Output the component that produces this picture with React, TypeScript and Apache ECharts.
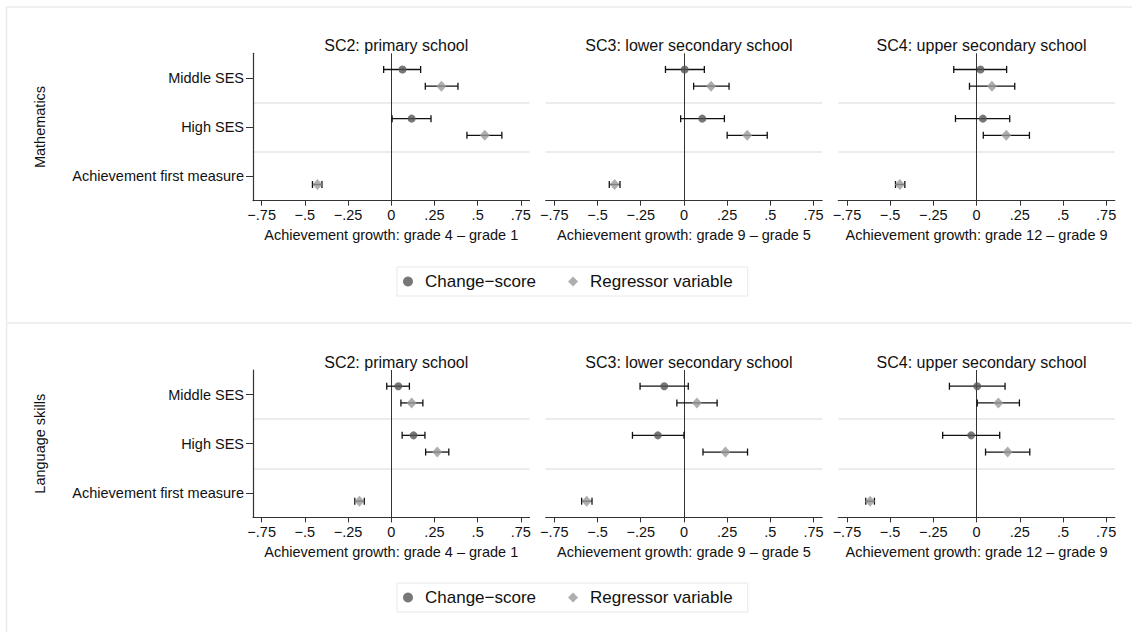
import React, { useEffect, useRef } from "react";
import * as echarts from "echarts";

// Row labels (top to bottom) and panel headings
const categories = ["Middle SES", "High SES", "Achievement first measure"];
const stages = ["SC2: primary school", "SC3: lower secondary school", "SC4: upper secondary school"];
const growthTitles = [
  "Achievement growth: grade 4 – grade 1",
  "Achievement growth: grade 9 – grade 5",
  "Achievement growth: grade 12 – grade 9",
];
const domains = ["Mathematics", "Language skills"];
const xTicks = [-0.75, -0.5, -0.25, 0, 0.25, 0.5, 0.75];

// Estimates as [coefficient, lower CI, upper CI]; change-score rows: Middle SES, High SES
const mathChangeSC2 = [[0.065, -0.044, 0.17], [0.118, 0.005, 0.23]];
const mathChangeSC3 = [[0.004, -0.107, 0.118], [0.106, -0.019, 0.234]];
const mathChangeSC4 = [[0.023, -0.132, 0.174], [0.037, -0.122, 0.192]];
// Regressor-variable rows: Middle SES, High SES, Achievement first measure
const mathRegSC2 = [[0.29, 0.197, 0.386], [0.541, 0.438, 0.64], [-0.427, -0.456, -0.401]];
const mathRegSC3 = [[0.157, 0.056, 0.261], [0.366, 0.25, 0.482], [-0.401, -0.432, -0.37]];
const mathRegSC4 = [[0.089, -0.041, 0.221], [0.172, 0.039, 0.306], [-0.444, -0.469, -0.415]];

const langChangeSC2 = [[0.041, -0.026, 0.105], [0.129, 0.063, 0.195]];
const langChangeSC3 = [[-0.114, -0.254, 0.025], [-0.151, -0.298, 0.0]];
const langChangeSC4 = [[0.004, -0.157, 0.165], [-0.031, -0.196, 0.134]];
const langRegSC2 = [[0.118, 0.056, 0.183], [0.266, 0.199, 0.333], [-0.184, -0.211, -0.156]];
const langRegSC3 = [[0.075, -0.041, 0.192], [0.24, 0.11, 0.368], [-0.563, -0.592, -0.532]];
const langRegSC4 = [[0.126, 0.004, 0.248], [0.18, 0.052, 0.308], [-0.616, -0.641, -0.591]];

const CHANGE = "Change\u2212score";
const REGRESSOR = "Regressor variable";

const panels = [
  { change: mathChangeSC2, reg: mathRegSC2 },
  { change: mathChangeSC3, reg: mathRegSC3 },
  { change: mathChangeSC4, reg: mathRegSC4 },
  { change: langChangeSC2, reg: langRegSC2 },
  { change: langChangeSC3, reg: langRegSC3 },
  { change: langChangeSC4, reg: langRegSC4 },
];

const FONT = "'Liberation Sans', Arial, Helvetica, sans-serif";
const TEXT = "#111";
const AXIS = "#333";
const GRID_LEFTS = [253, 545.7, 838.3];
const GRID_W = 276.5;
const HALF_TOPS = [53.3, 370];
const GRID_H = 147.4;
const OFFSET = 0.17; // vertical shift of the two estimates inside a row

const tickLabel = (v: number) => {
  if (Math.abs(v) < 1e-9) return "0";
  const s = Math.abs(v).toString().replace(/^0/, "");
  return (v < 0 ? "\u2212" : "") + s;
};

const errorBar = (params: any, api: any) => {
  const y = api.value(2);
  const p1 = api.coord([api.value(0), y]);
  const p2 = api.coord([api.value(1), y]);
  const h = 3.5;
  const style = { stroke: "#111", lineWidth: 1.3 };
  return {
    type: "group",
    children: [
      { type: "line", shape: { x1: p1[0], y1: p1[1], x2: p2[0], y2: p2[1] }, style },
      { type: "line", shape: { x1: p1[0], y1: p1[1] - h, x2: p1[0], y2: p1[1] + h }, style },
      { type: "line", shape: { x1: p2[0], y1: p2[1] - h, x2: p2[0], y2: p2[1] + h }, style },
    ],
  };
};

function buildOption() {
  const grid: any[] = [];
  const xAxis: any[] = [];
  const yAxis: any[] = [];
  const title: any[] = [];
  const series: any[] = [];

  panels.forEach((p, g) => {
    const col = g % 3;
    const half = Math.floor(g / 3);
    const left = GRID_LEFTS[col];
    const top = HALF_TOPS[half];
    grid.push({ left, top, width: GRID_W, height: GRID_H, containLabel: false });

    title.push({
      text: stages[col],
      left: left + GRID_W / 2,
      top: top - 21,
      textAlign: "center",
      textStyle: { fontSize: 16, fontWeight: "normal", color: TEXT, fontFamily: FONT },
    });

    xAxis.push({
      type: "value",
      gridIndex: g,
      position: "bottom",
      min: -0.8,
      max: 0.8,
      axisLine: { show: true, onZero: false, lineStyle: { color: AXIS, width: 1.2 } },
      axisTick: { show: true, customValues: xTicks, length: 5, lineStyle: { color: AXIS, width: 1 } },
      axisLabel: {
        customValues: xTicks,
        formatter: tickLabel,
        fontSize: 14.5,
        color: TEXT,
        margin: 7,
        fontFamily: FONT,
      },
      splitLine: { show: false },
      name: growthTitles[col],
      nameLocation: "middle",
      nameGap: 27,
      nameTextStyle: { fontSize: 14.5, color: TEXT, fontFamily: FONT },
    });

    // value axis used for plotting and the row separators
    yAxis.push({
      type: "value",
      gridIndex: g,
      position: "left",
      min: 0,
      max: 3,
      interval: 1,
      inverse: true,
      axisLine: { show: false, onZero: false },
      axisTick: { show: false },
      axisLabel: { show: false },
      splitLine: {
        show: true,
        showMinLine: false,
        showMaxLine: false,
        lineStyle: { color: "#e6e6e6", width: 1.5 },
      },
    });

    const changeBars = p.change.map((d, i) => [d[1], d[2], i + 0.5 - OFFSET]);
    const changePts = p.change.map((d, i) => [d[0], i + 0.5 - OFFSET]);
    const regBars = p.reg.map((d, i) => [d[1], d[2], i + 0.5 + OFFSET]);
    const regPts = p.reg.map((d, i) => [d[0], i + 0.5 + OFFSET]);

    series.push({
      type: "custom",
      name: "ci-change",
      xAxisIndex: g,
      yAxisIndex: g,
      renderItem: errorBar,
      encode: { x: [0, 1], y: 2 },
      data: changeBars,
      z: 3,
      silent: true,
    });
    series.push({
      type: "custom",
      name: "ci-reg",
      xAxisIndex: g,
      yAxisIndex: g,
      renderItem: errorBar,
      encode: { x: [0, 1], y: 2 },
      data: regBars,
      z: 3,
      silent: true,
    });
    series.push({
      type: "scatter",
      name: CHANGE,
      xAxisIndex: g,
      yAxisIndex: g,
      symbol: "circle",
      symbolSize: 8,
      itemStyle: { color: "#555555" },
      data: changePts,
      z: 4,
      markLine: {
        silent: true,
        symbol: "none",
        label: { show: false },
        lineStyle: { color: AXIS, width: 1, type: "solid" },
        data: [{ xAxis: 0 }],
        z: 2,
      },
    });
    series.push({
      type: "scatter",
      name: REGRESSOR,
      xAxisIndex: g,
      yAxisIndex: g,
      symbol: "diamond",
      symbolSize: [10, 11],
      itemStyle: { color: "#9a9a9a" },
      data: regPts,
      z: 4,
    });
  });

  // row labels on the left-hand panels
  [0, 3].forEach((g, k) => {
    yAxis.push({
      type: "category",
      gridIndex: g,
      position: "left",
      offset: 0,
      data: categories,
      inverse: true,
      boundaryGap: true,
      axisLine: { show: true, onZero: false, lineStyle: { color: AXIS, width: 1.2 } },
      axisTick: { show: true, alignWithLabel: true, length: 7, lineStyle: { color: AXIS, width: 1 } },
      axisLabel: { fontSize: 14.5, color: TEXT, margin: 9, fontFamily: FONT },
      splitLine: { show: false },
      name: domains[k],
      nameLocation: "middle",
      nameGap: 206,
      nameTextStyle: { fontSize: 14.5, color: TEXT, fontFamily: FONT },
    });
  });

  const legend = HALF_TOPS.map((_, k) => ({
    data: [
      { name: CHANGE, icon: "circle" },
      { name: REGRESSOR, icon: "diamond" },
    ],
    left: 397,
    top: 267 + k * 316,
    orient: "horizontal",
    itemWidth: 10,
    itemHeight: 10,
    itemGap: 32,
    padding: [6, 15, 6, 6],
    borderColor: "#e8e8e8",
    borderWidth: 1,
    backgroundColor: "#ffffff",
    selectedMode: false,
    textStyle: { fontSize: 17, color: TEXT, fontFamily: FONT, padding: [0, 0, 0, 7] },
  }));

  const border = { stroke: "#ebebeb", lineWidth: 1.5 };
  const graphic = [
    { type: "line", shape: { x1: 6, y1: 7, x2: 1132, y2: 7 }, style: border, silent: true },
    { type: "line", shape: { x1: 6.5, y1: 7, x2: 6.5, y2: 632 }, style: border, silent: true },
    { type: "line", shape: { x1: 6, y1: 323, x2: 1132, y2: 323 }, style: border, silent: true },
  ];

  return {
    animation: false,
    backgroundColor: "#ffffff",
    textStyle: { fontFamily: FONT },
    title,
    legend,
    grid,
    xAxis,
    yAxis,
    series,
    graphic,
  };
}

export default function App() {
  const ref = useRef<HTMLDivElement>(null);
  useEffect(() => {
    if (!ref.current) return;
    const chart = echarts.init(ref.current, undefined, { renderer: "svg" });
    chart.setOption(buildOption() as any);
    return () => chart.dispose();
  }, []);
  return (
    <div
      ref={ref}
      style={{ position: "fixed", left: 0, top: 0, width: 1132, height: 632, background: "#fff" }}
    />
  );
}
